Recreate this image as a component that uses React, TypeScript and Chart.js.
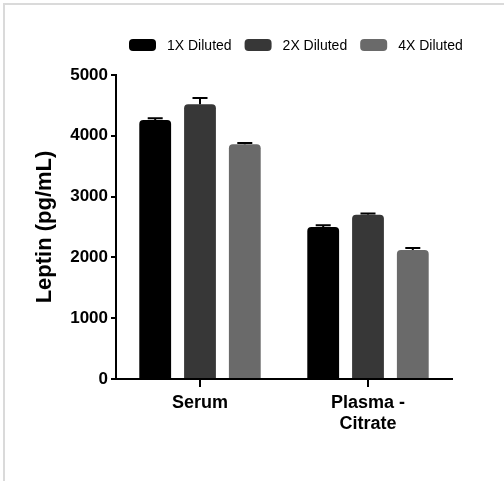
import React, { useEffect, useRef } from "react";
import { Chart, registerables } from "chart.js";

Chart.register(...registerables);

const categories: string[][] = [["Serum"], ["Plasma -", "Citrate"]];
const seriesLabels = ["1X Diluted", "2X Diluted", "4X Diluted"];
const values1X = [4260, 2500];
const values2X = [4520, 2700];
const values4X = [3860, 2120];
const errors1X = [30, 30];
const errors2X = [100, 20];
const errors4X = [20, 35];
const seriesColors = ["#000000", "#373737", "#6a6a6a"];
const yTickValues = [0, 1000, 2000, 3000, 4000, 5000];
const yTitle = "Leptin (pg/mL)";

const FONT = "'Liberation Sans', Arial, sans-serif";

const errorBarPlugin = {
  id: "errorBars",
  afterDatasetsDraw(chart: any) {
    const ctx = chart.ctx;
    const yScale = chart.scales.y;
    chart.data.datasets.forEach((ds: any, i: number) => {
      const meta = chart.getDatasetMeta(i);
      meta.data.forEach((bar: any, j: number) => {
        const v = ds.data[j];
        const e = ds.errors[j];
        const top = yScale.getPixelForValue(v + e);
        const base = yScale.getPixelForValue(v);
        ctx.save();
        ctx.strokeStyle = "#000";
        ctx.lineWidth = 2;
        ctx.beginPath();
        ctx.moveTo(bar.x, base);
        ctx.lineTo(bar.x, top);
        ctx.moveTo(bar.x - 7.5, top);
        ctx.lineTo(bar.x + 7.5, top);
        ctx.stroke();
        ctx.restore();
      });
    });
  },
};

const legendPlugin = {
  id: "topLegend",
  afterDraw(chart: any) {
    const ctx = chart.ctx;
    ctx.save();
    ctx.font = `14px ${FONT}`;
    let x = 129;
    const yc = 45;
    chart.data.datasets.forEach((ds: any) => {
      ctx.fillStyle = ds.backgroundColor;
      ctx.beginPath();
      ctx.roundRect(x, yc - 6, 27, 12, 4);
      ctx.fill();
      x += 27 + 11;
      ctx.fillStyle = "#000";
      ctx.textBaseline = "middle";
      ctx.textAlign = "left";
      ctx.fillText(ds.label, x, yc + 1);
      x += ctx.measureText(ds.label).width + 13;
    });
    ctx.restore();
  },
};

export default function App() {
  const canvasRef = useRef<HTMLCanvasElement | null>(null);

  useEffect(() => {
    if (!canvasRef.current) return;
    const valueSets = [values1X, values2X, values4X];
    const errorSets = [errors1X, errors2X, errors4X];
    const chart = new Chart(canvasRef.current, {
      type: "bar",
      data: {
        labels: categories as any,
        datasets: seriesLabels.map((label, i) => ({
          label,
          data: valueSets[i],
          errors: errorSets[i],
          backgroundColor: seriesColors[i],
          borderRadius: 4,
          borderSkipped: "bottom",
          categoryPercentage: 0.8,
          barPercentage: 0.71,
        })) as any,
      },
      options: {
        animation: false,
        responsive: false,
        devicePixelRatio: 1,
        layout: { padding: { top: 75, right: 52, left: 0, bottom: 0 } },
        plugins: {
          legend: { display: false },
          tooltip: { enabled: false },
        },
        scales: {
          x: {
            offset: true,
            grid: {
              offset: false,
              drawOnChartArea: false,
              drawTicks: true,
              tickLength: 8,
              color: "#000",
              lineWidth: 2,
            },
            border: { color: "#000", width: 2 },
            ticks: {
              color: "#000",
              font: { family: FONT, size: 18, weight: "bold" },
              padding: 5,
            },
            afterFit: (s: any) => {
              s.height = 102;
            },
          },
          y: {
            min: 0,
            max: 5000,
            afterBuildTicks: (s: any) => {
              s.ticks = yTickValues.map((v) => ({ value: v }));
            },
            grid: {
              drawOnChartArea: false,
              drawTicks: true,
              tickLength: 5,
              color: "#000",
              lineWidth: 2,
            },
            border: { color: "#000", width: 2 },
            ticks: {
              color: "#000",
              font: { family: FONT, size: 17, weight: "bold" },
              padding: 3,
              callback: (v: any) => String(v),
            },
            title: {
              display: true,
              text: yTitle,
              color: "#000",
              font: { family: FONT, size: 22, weight: "bold" },
              padding: { top: 32, bottom: 0 },
            },
            afterFit: (s: any) => {
              s.width = 116;
            },
          },
        },
      } as any,
      plugins: [errorBarPlugin, legendPlugin],
    });
    return () => chart.destroy();
  }, []);

  return (
    <div
      style={{
        position: "fixed",
        left: 0,
        top: 0,
        width: 504,
        height: 481,
        background: "#fff",
      }}
    >
      <div
        style={{
          position: "absolute",
          left: 3,
          top: 3,
          right: 0,
          bottom: 0,
          borderTop: "2px solid #dadada",
          borderLeft: "2px solid #dadada",
        }}
      />
      <canvas
        ref={canvasRef}
        width={504}
        height={481}
        style={{ position: "absolute", left: 0, top: 0 }}
      />
    </div>
  );
}
